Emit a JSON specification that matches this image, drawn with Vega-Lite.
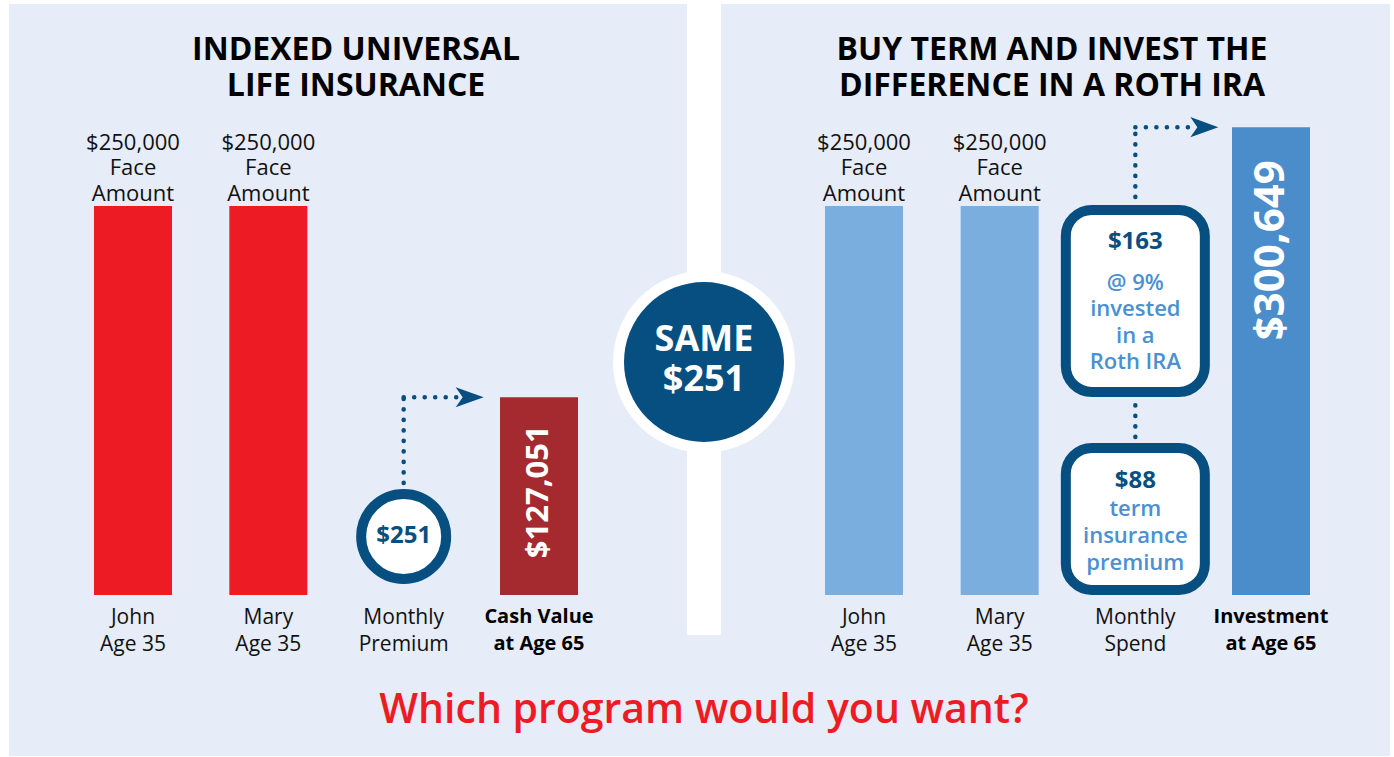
{
  "$schema": "https://vega.github.io/schema/vega-lite/v6.json",
  "width": 1381,
  "height": 752,
  "autosize": {"type": "none"},
  "padding": {"left": 9, "top": 4, "right": 4, "bottom": 1},
  "background": "#ffffff",
  "config": {
    "view": {"stroke": null, "fill": "#e6ecf8"},
    "axis": {"disable": true},
    "text": {"font": "Open Sans"}
  },
  "datasets": {
    "panels": [
      {"panel": "IUL", "role": "title", "text": "INDEXED UNIVERSAL\nLIFE INSURANCE"},
      {"panel": "VS", "role": "badge", "text": "SAME\n$251"},
      {"panel": "VS", "role": "question", "text": "Which program would you want?"},
      {"panel": "BTID", "role": "title", "text": "BUY TERM AND INVEST THE\nDIFFERENCE IN A ROTH IRA"}
    ],
    "iul": [
      {"item": "John", "kind": "face", "value": 250000, "above": "$250,000\nFace\nAmount", "label": "John\nAge 35"},
      {"item": "Mary", "kind": "face", "value": 250000, "above": "$250,000\nFace\nAmount", "label": "Mary\nAge 35"},
      {"item": "Monthly Premium", "kind": "premium", "value": 251, "amount": "$251", "label": "Monthly\nPremium"},
      {"item": "Cash Value at Age 65", "kind": "result", "value": 127051, "amount": "$127,051", "label": "Cash Value\nat Age 65"}
    ],
    "btid": [
      {"item": "John", "kind": "face", "value": 250000, "above": "$250,000\nFace\nAmount", "label": "John\nAge 35"},
      {"item": "Mary", "kind": "face", "value": 250000, "above": "$250,000\nFace\nAmount", "label": "Mary\nAge 35"},
      {"item": "Monthly Spend", "kind": "spend", "value": 251, "invest": "$163", "investNote": "@ 9%\ninvested\nin a\nRoth IRA", "term": "$88", "termNote": "term\ninsurance\npremium", "label": "Monthly\nSpend"},
      {"item": "Investment at Age 65", "kind": "result", "value": 300649, "amount": "$300,649", "label": "Investment\nat Age 65"}
    ]
  },
  "resolve": {"scale": {"x": "independent"}},
  "layer": [
    {
      "data": {"name": "panels"},
      "encoding": {
        "x": {"field": "panel", "type": "nominal", "sort": null,
              "scale": {"domain": ["IUL", "VS", "BTID"], "range": [173, 1217], "paddingInner": 0, "paddingOuter": 0}}
      },
      "layer": [
        {
          "transform": [{"filter": "datum.role == 'badge'"}],
          "mark": {"type": "bar", "width": 34, "color": "#ffffff"},
          "encoding": {
            "y": {"datum": 379800, "type": "quantitative", "scale": {"domain": [-103500, 379800], "nice": false, "zero": false}},
            "y2": {"datum": -25700}
          }
        },
        {
          "transform": [{"filter": "datum.role == 'badge'"}],
          "mark": {"type": "point", "shape": "circle", "filled": true, "size": 29241, "fill": "#064f80", "stroke": "#ffffff", "strokeWidth": 11, "opacity": 1},
          "encoding": {
            "y": {"datum": 149740, "type": "quantitative", "scale": {"domain": [-103500, 379800], "nice": false, "zero": false}}
          }
        },
        {
          "transform": [{"filter": "datum.role == 'badge'"}],
          "mark": {"type": "text", "lineBreak": "\n", "fontSize": 36, "fontWeight": "bold", "color": "#ffffff", "lineHeight": 40, "baseline": "middle", "align": "center"},
          "encoding": {
            "y": {"datum": 163880, "type": "quantitative", "scale": {"domain": [-103500, 379800], "nice": false, "zero": false}},
            "text": {"field": "text"}
          }
        },
        {
          "transform": [{"filter": "datum.role == 'title'"}],
          "mark": {"type": "text", "lineBreak": "\n", "fontSize": 32, "fontWeight": "bold", "color": "#000000", "lineHeight": 36, "baseline": "middle", "align": "center", "letterSpacing": 2.5},
          "encoding": {
            "y": {"datum": 350250, "type": "quantitative", "scale": {"domain": [-103500, 379800], "nice": false, "zero": false}},
            "text": {"field": "text"}
          }
        },
        {
          "transform": [{"filter": "datum.role == 'question'"}],
          "mark": {"type": "text", "fontSize": 41, "fontWeight": 600, "color": "#ed1c24", "baseline": "middle", "align": "center"},
          "encoding": {
            "y": {"datum": -74550, "type": "quantitative", "scale": {"domain": [-103500, 379800], "nice": false, "zero": false}},
            "text": {"field": "text"}
          }
        }
      ]
    },
    {
      "data": {"name": "iul"},
      "encoding": {
        "x": {"field": "item", "type": "nominal", "sort": null,
              "scale": {"domain": ["John", "Mary", "Monthly Premium", "Cash Value at Age 65"], "range": [56.33, 597.67], "paddingInner": 0.4236, "paddingOuter": 0.2118}}
      },
      "layer": [
        {
          "transform": [{"filter": "datum.kind == 'face' || datum.kind == 'result'"}],
          "mark": {"type": "bar"},
          "encoding": {
            "y": {"field": "value", "type": "quantitative", "scale": {"domain": [-103500, 379800], "nice": false, "zero": false}},
            "color": {"condition": {"test": "datum.kind == 'result'", "value": "#a52a30"}, "value": "#ed1c24"}
          }
        },
        {
          "transform": [{"filter": "datum.kind == 'face'"}],
          "mark": {"type": "text", "lineBreak": "\n", "fontSize": 22, "letterSpacing": 0.4, "lineHeight": 25.5, "baseline": "middle", "align": "center", "dy": -63, "color": "#111111"},
          "encoding": {
            "y": {"field": "value", "type": "quantitative", "scale": {"domain": [-103500, 379800], "nice": false, "zero": false}},
            "text": {"field": "above"}
          }
        },
        {
          "transform": [{"filter": "datum.kind != 'result'"}],
          "mark": {"type": "text", "lineBreak": "\n", "fontSize": 21, "letterSpacing": 0.3, "lineHeight": 27, "baseline": "top", "align": "center", "dy": 12, "color": "#111111"},
          "encoding": {
            "y": {"datum": 0, "type": "quantitative", "scale": {"domain": [-103500, 379800], "nice": false, "zero": false}},
            "text": {"field": "label"}
          }
        },
        {
          "transform": [{"filter": "datum.kind == 'result'"}],
          "mark": {"type": "text", "lineBreak": "\n", "fontSize": 20, "fontWeight": "bold", "letterSpacing": 0.3, "lineHeight": 27, "baseline": "top", "align": "center", "dy": 12, "color": "#000000"},
          "encoding": {
            "y": {"datum": 0, "type": "quantitative", "scale": {"domain": [-103500, 379800], "nice": false, "zero": false}},
            "text": {"field": "label"}
          }
        },
        {
          "transform": [{"filter": "datum.kind == 'result'"}],
          "mark": {"type": "text", "angle": 270, "align": "right", "baseline": "middle", "dx": -28, "fontSize": 31, "fontWeight": "bold", "color": "#ffffff"},
          "encoding": {
            "y": {"field": "value", "type": "quantitative", "scale": {"domain": [-103500, 379800], "nice": false, "zero": false}},
            "text": {"field": "amount"}
          }
        },
        {
          "transform": [{"filter": "datum.kind == 'premium'"}],
          "mark": {"type": "rule", "color": "#064f80", "strokeWidth": 4.5, "strokeCap": "round", "strokeDash": [0.1, 10.4]},
          "encoding": {
            "y": {"datum": 71980, "type": "quantitative", "scale": {"domain": [-103500, 379800], "nice": false, "zero": false}},
            "y2": {"datum": 127051}
          }
        },
        {
          "transform": [{"filter": "datum.kind == 'premium'"}],
          "mark": {"type": "rule", "color": "#064f80", "strokeWidth": 4.5, "strokeCap": "round", "strokeDash": [0.1, 10.4], "x2Offset": 53},
          "encoding": {
            "y": {"datum": 127051, "type": "quantitative", "scale": {"domain": [-103500, 379800], "nice": false, "zero": false}},
            "x2": {"field": "item"}
          }
        },
        {
          "transform": [{"filter": "datum.kind == 'premium'"}],
          "mark": {"type": "point", "shape": "M-1,-0.72L1,0L-1,0.72L-0.5,0Z", "filled": true, "size": 784, "color": "#064f80", "opacity": 1, "xOffset": 66},
          "encoding": {
            "y": {"datum": 127051, "type": "quantitative", "scale": {"domain": [-103500, 379800], "nice": false, "zero": false}}
          }
        },
        {
          "transform": [{"filter": "datum.kind == 'premium'"}],
          "mark": {"type": "point", "shape": "circle", "filled": true, "size": 7225, "fill": "#ffffff", "stroke": "#064f80", "strokeWidth": 10, "opacity": 1},
          "encoding": {
            "y": {"datum": 37600, "type": "quantitative", "scale": {"domain": [-103500, 379800], "nice": false, "zero": false}}
          }
        },
        {
          "transform": [{"filter": "datum.kind == 'premium'"}],
          "mark": {"type": "text", "fontSize": 24, "fontWeight": "bold", "color": "#064f80", "baseline": "middle", "align": "center"},
          "encoding": {
            "y": {"datum": 37600, "type": "quantitative", "scale": {"domain": [-103500, 379800], "nice": false, "zero": false}},
            "text": {"field": "amount"}
          }
        }
      ]
    },
    {
      "data": {"name": "btid"},
      "encoding": {
        "x": {"field": "item", "type": "nominal", "sort": null,
              "scale": {"domain": ["John", "Mary", "Monthly Spend", "Investment at Age 65"], "range": [787.17, 1329.83], "paddingInner": 0.4251, "paddingOuter": 0.2125}}
      },
      "layer": [
        {
          "transform": [{"filter": "datum.kind == 'face' || datum.kind == 'result'"}],
          "mark": {"type": "bar"},
          "encoding": {
            "y": {"field": "value", "type": "quantitative", "scale": {"domain": [-103500, 379800], "nice": false, "zero": false}},
            "color": {"condition": {"test": "datum.kind == 'result'", "value": "#4b8dca"}, "value": "#7aaedf"}
          }
        },
        {
          "transform": [{"filter": "datum.kind == 'face'"}],
          "mark": {"type": "text", "lineBreak": "\n", "fontSize": 22, "letterSpacing": 0.4, "lineHeight": 25.5, "baseline": "middle", "align": "center", "dy": -63, "color": "#111111"},
          "encoding": {
            "y": {"field": "value", "type": "quantitative", "scale": {"domain": [-103500, 379800], "nice": false, "zero": false}},
            "text": {"field": "above"}
          }
        },
        {
          "transform": [{"filter": "datum.kind != 'result'"}],
          "mark": {"type": "text", "lineBreak": "\n", "fontSize": 21, "letterSpacing": 0.3, "lineHeight": 27, "baseline": "top", "align": "center", "dy": 12, "color": "#111111"},
          "encoding": {
            "y": {"datum": 0, "type": "quantitative", "scale": {"domain": [-103500, 379800], "nice": false, "zero": false}},
            "text": {"field": "label"}
          }
        },
        {
          "transform": [{"filter": "datum.kind == 'result'"}],
          "mark": {"type": "text", "lineBreak": "\n", "fontSize": 20, "fontWeight": "bold", "letterSpacing": 0.3, "lineHeight": 27, "baseline": "top", "align": "center", "dy": 12, "color": "#000000"},
          "encoding": {
            "y": {"datum": 0, "type": "quantitative", "scale": {"domain": [-103500, 379800], "nice": false, "zero": false}},
            "text": {"field": "label"}
          }
        },
        {
          "transform": [{"filter": "datum.kind == 'result'"}],
          "mark": {"type": "text", "angle": 270, "align": "right", "baseline": "middle", "dx": -33, "fontSize": 42, "fontWeight": "bold", "color": "#ffffff"},
          "encoding": {
            "y": {"field": "value", "type": "quantitative", "scale": {"domain": [-103500, 379800], "nice": false, "zero": false}},
            "text": {"field": "amount"}
          }
        },
        {
          "transform": [{"filter": "datum.kind == 'spend'"}],
          "mark": {"type": "rule", "color": "#064f80", "strokeWidth": 4.5, "strokeCap": "round", "strokeDash": [0.1, 10.4]},
          "encoding": {
            "y": {"datum": 255780, "type": "quantitative", "scale": {"domain": [-103500, 379800], "nice": false, "zero": false}},
            "y2": {"datum": 300649}
          }
        },
        {
          "transform": [{"filter": "datum.kind == 'spend'"}],
          "mark": {"type": "rule", "color": "#064f80", "strokeWidth": 4.5, "strokeCap": "round", "strokeDash": [0.1, 10.4], "x2Offset": 55},
          "encoding": {
            "y": {"datum": 300649, "type": "quantitative", "scale": {"domain": [-103500, 379800], "nice": false, "zero": false}},
            "x2": {"field": "item"}
          }
        },
        {
          "transform": [{"filter": "datum.kind == 'spend'"}],
          "mark": {"type": "point", "shape": "M-1,-0.72L1,0L-1,0.72L-0.5,0Z", "filled": true, "size": 784, "color": "#064f80", "opacity": 1, "xOffset": 69},
          "encoding": {
            "y": {"datum": 300649, "type": "quantitative", "scale": {"domain": [-103500, 379800], "nice": false, "zero": false}}
          }
        },
        {
          "transform": [{"filter": "datum.kind == 'spend'"}],
          "mark": {"type": "rule", "color": "#064f80", "strokeWidth": 4.5, "strokeCap": "round", "strokeDash": [0.1, 10.4]},
          "encoding": {
            "y": {"datum": 101540, "type": "quantitative", "scale": {"domain": [-103500, 379800], "nice": false, "zero": false}},
            "y2": {"datum": 122110}
          }
        },
        {
          "transform": [{"filter": "datum.kind == 'spend'"}],
          "mark": {"type": "bar", "width": 139, "cornerRadius": 26, "fill": "#ffffff", "stroke": "#064f80", "strokeWidth": 10},
          "encoding": {
            "y": {"datum": 247430, "type": "quantitative", "scale": {"domain": [-103500, 379800], "nice": false, "zero": false}},
            "y2": {"datum": 130460}
          }
        },
        {
          "transform": [{"filter": "datum.kind == 'spend'"}],
          "mark": {"type": "bar", "width": 139, "cornerRadius": 26, "fill": "#ffffff", "stroke": "#064f80", "strokeWidth": 10},
          "encoding": {
            "y": {"datum": 94470, "type": "quantitative", "scale": {"domain": [-103500, 379800], "nice": false, "zero": false}},
            "y2": {"datum": 3213}
          }
        },
        {
          "transform": [{"filter": "datum.kind == 'spend'"}],
          "mark": {"type": "text", "fontSize": 24, "fontWeight": "bold", "color": "#064f80", "baseline": "middle", "align": "center"},
          "encoding": {
            "y": {"datum": 226860, "type": "quantitative", "scale": {"domain": [-103500, 379800], "nice": false, "zero": false}},
            "text": {"field": "invest"}
          }
        },
        {
          "transform": [{"filter": "datum.kind == 'spend'"}],
          "mark": {"type": "text", "lineBreak": "\n", "fontSize": 22, "fontWeight": 600, "lineHeight": 26.5, "color": "#4a90d2", "baseline": "middle", "align": "center"},
          "encoding": {
            "y": {"datum": 200520, "type": "quantitative", "scale": {"domain": [-103500, 379800], "nice": false, "zero": false}},
            "text": {"field": "investNote"}
          }
        },
        {
          "transform": [{"filter": "datum.kind == 'spend'"}],
          "mark": {"type": "text", "fontSize": 24, "fontWeight": "bold", "color": "#064f80", "baseline": "middle", "align": "center"},
          "encoding": {
            "y": {"datum": 73260, "type": "quantitative", "scale": {"domain": [-103500, 379800], "nice": false, "zero": false}},
            "text": {"field": "term"}
          }
        },
        {
          "transform": [{"filter": "datum.kind == 'spend'"}],
          "mark": {"type": "text", "lineBreak": "\n", "fontSize": 22, "fontWeight": 600, "lineHeight": 27, "color": "#4a90d2", "baseline": "middle", "align": "center"},
          "encoding": {
            "y": {"datum": 55270, "type": "quantitative", "scale": {"domain": [-103500, 379800], "nice": false, "zero": false}},
            "text": {"field": "termNote"}
          }
        }
      ]
    }
  ]
}
